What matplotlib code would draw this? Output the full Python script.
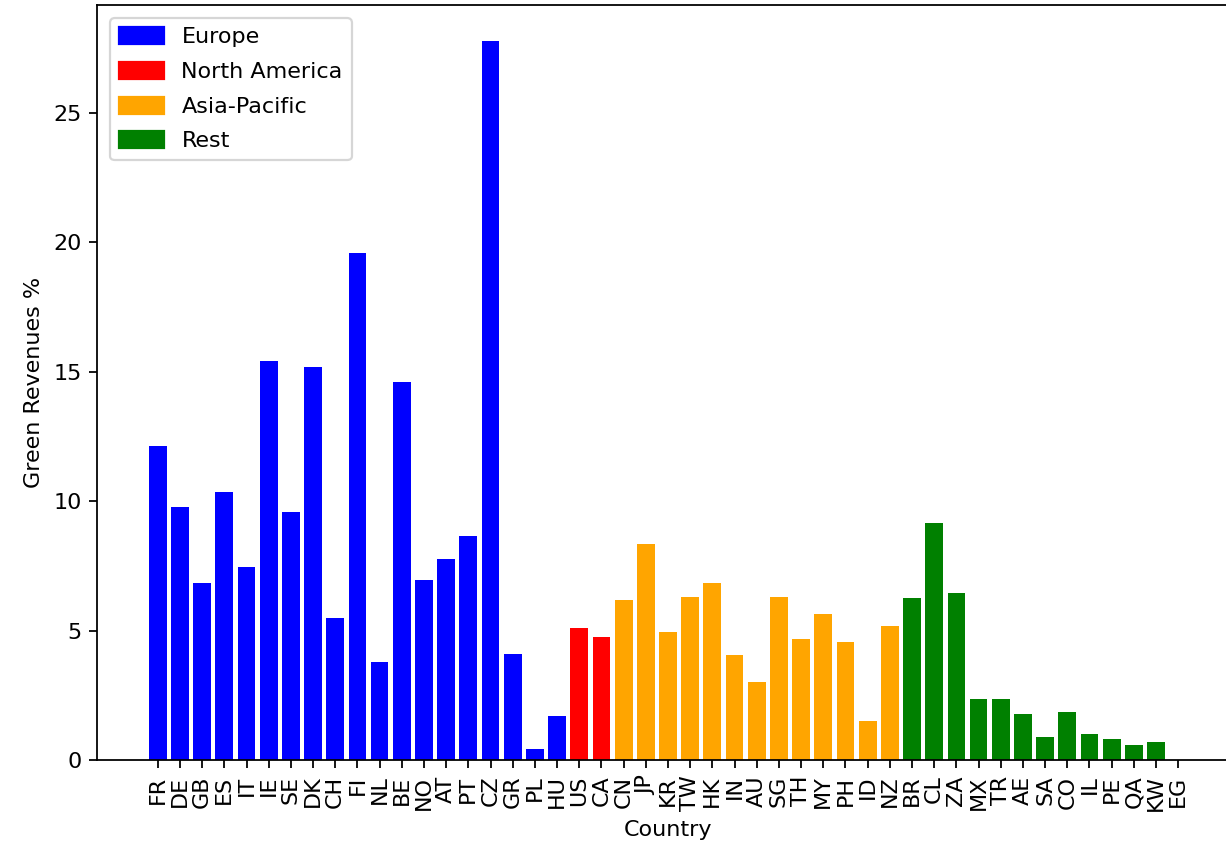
import matplotlib
matplotlib.use("Agg")
import matplotlib.pyplot as plt
from matplotlib.patches import Patch

europe = ['FR', 'DE', 'GB', 'ES', 'IT', 'IE', 'SE', 'DK', 'CH', 'FI', 'NL', 'BE',
          'NO', 'AT', 'PT', 'CZ', 'GR', 'PL', 'HU']
europe_vals = [12.13, 9.79, 6.83, 10.37, 7.46, 15.42, 9.59, 15.17, 5.50, 19.58, 3.80, 14.59,
               6.96, 7.78, 8.67, 27.78, 4.11, 0.44, 1.70]

north_america = ['US', 'CA']
north_america_vals = [5.11, 4.74]

asia_pacific = ['CN', 'JP', 'KR', 'TW', 'HK', 'IN', 'AU', 'SG', 'TH', 'MY', 'PH', 'ID', 'NZ']
asia_pacific_vals = [6.19, 8.35, 4.93, 6.31, 6.83, 4.04, 3.03, 6.31, 4.69, 5.63, 4.55, 1.52, 5.18]

rest = ['BR', 'CL', 'ZA', 'MX', 'TR', 'AE', 'SA', 'CO', 'IL', 'PE', 'QA', 'KW', 'EG']
rest_vals = [6.26, 9.17, 6.44, 2.35, 2.35, 1.78, 0.90, 1.84, 1.02, 0.82, 0.58, 0.71, 0.0]

regions = ['Europe', 'North America', 'Asia-Pacific', 'Rest']
region_colors = ['blue', 'red', 'orange', 'green']

groups = [(europe, europe_vals), (north_america, north_america_vals),
          (asia_pacific, asia_pacific_vals), (rest, rest_vals)]

countries, values, colors = [], [], []
for (names, vals), c in zip(groups, region_colors):
    countries += names
    values += vals
    colors += [c] * len(names)

fig = plt.figure(figsize=(1226 / 160, 846 / 160), dpi=160)
# the original is a tight crop, the right spine sits just outside the picture
ax = fig.add_axes([97 / 1226, 1 - 760 / 846, (1239 - 97) / 1226, (760 - 5) / 846])
ax.bar(countries, values, color=colors)
ax.set_xlabel('Country')
ax.set_ylabel('Green Revenues %')
ax.tick_params(axis='x', rotation=90)
ax.spines['right'].set_visible(False)

handles = [Patch(color=c, label=r) for r, c in zip(regions, region_colors)]
ax.legend(handles=handles, loc='upper left', handleheight=0.8,
          labelspacing=0.65, borderaxespad=0.6)

fig.savefig('out.png', dpi=160)
